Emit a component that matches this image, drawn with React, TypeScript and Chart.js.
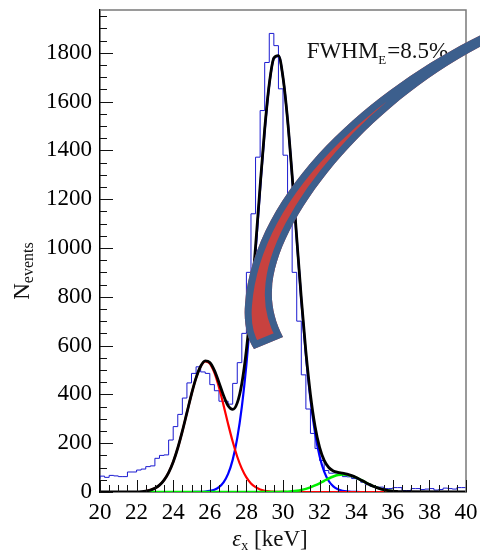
import React, { useEffect, useRef } from "react";
import { Chart, registerables } from "chart.js";
Chart.register(...registerables);

// ---------- data ----------
const binStart = 20;
const binWidth = 0.25;
const histCounts = [
  55, 65, 60, 68, 66, 63, 63, 82, 82, 90, 94, 104,
  107, 138, 150, 152, 213, 268, 318, 385, 447, 486, 513, 492,
  486, 440, 415, 372, 372, 360, 445, 530, 650, 900, 1140, 1372,
  1563, 1760, 1879, 1829, 1652, 1380, 1120, 900, 700, 480, 340, 240,
  178, 129, 88, 77, 78, 75, 63, 62, 55, 52, 40, 30,
  23, 20, 20, 14, 14, 18, 18, 6, 6, 14, 14, 10,
  12, 14, 8, 10, 16, 14, 12, 18,
];

const fitX = [
  22.5, 22.75, 23, 23.25, 23.5, 23.75, 24, 24.25, 24.5, 24.75, 25, 25.25, 25.5, 25.75,
  26, 26.25, 26.5, 26.75, 27, 27.25, 27.5, 27.75, 28, 28.25, 28.5, 28.75, 29, 29.25,
  29.5, 29.75, 30, 30.25, 30.5, 30.75, 31, 31.25, 31.5, 31.75, 32, 32.25, 32.5, 32.75,
  33, 33.25, 33.5, 33.75, 34, 34.25, 34.5, 34.75, 35, 35.25, 35.5, 35.75, 36,
];
const redFit = [
  3.8, 7.9, 15.3, 28.1, 48.7, 79.7, 123.3, 180.3, 249.1, 325.1, 401.0, 467.3, 514.6, 535.4,
  526.4, 489.0, 429.2, 356.0, 278.9, 206.6, 144.5, 95.6, 59.7, 35.2, 19.7, 10.4, 5.2, 2.4,
  1.1, 0.5, 0.2, 0, 0, 0, 0, 0, 0, 0, 0, 0, 0, 0,
  0, 0, 0, 0, 0, 0, 0, 0, 0, 0, 0, 0, 0,
];
const blueFit = [
  0, 0, 0, 0, 0, 0, 0, 0, 0, 0, 0, 0.3, 0.7, 1.8,
  4.3, 9.5, 19.9, 39.6, 74.3, 131.7, 220.6, 349.2, 522.2, 737.9, 985.3, 1243.2, 1481.9, 1669.4,
  1776.7, 1786.9, 1698.0, 1524.5, 1293.5, 1036.8, 785.5, 562.2, 380.2, 242.9, 146.7, 83.6, 45.1, 23.0,
  11.1, 5.0, 2.2, 0.9, 0.3, 0, 0, 0, 0, 0, 0, 0, 0,
];
const greenFit = [
  0, 0, 0, 0, 0, 0, 0, 0, 0, 0, 0, 0, 0, 0,
  0, 0, 0, 0, 0, 0, 0, 0, 0, 0, 0, 0, 0, 0,
  0.2, 0.4, 0.8, 1.5, 2.8, 4.9, 8.1, 12.7, 18.9, 26.7, 35.8, 45.7, 55.3, 63.5,
  69.4, 71.9, 70.8, 66.2, 58.8, 49.6, 39.7, 30.2, 21.8, 15.0, 9.7, 6.0, 3.5,
];
const totalX = [
  20, 21.5, 22, 22.25,
  22.5, 22.75, 23, 23.25, 23.5, 23.75, 24, 24.25, 24.5, 24.75, 25, 25.25, 25.5, 25.75,
  26, 26.25, 26.5, 26.75, 27, 27.25, 27.5, 27.75, 28, 28.25, 28.5, 28.75, 29, 29.25,
  29.5, 29.75, 30, 30.25, 30.5, 30.75, 31, 31.25, 31.5, 31.75, 32, 32.25, 32.5, 32.75,
  33, 33.25, 33.5, 33.75, 34, 34.25, 34.5, 34.75, 35, 35.25, 35.5, 35.75, 36,
  36.25, 36.5, 40,
];
const totalFit = [
  0, 0.1, 0.8, 1.8,
  3.8, 7.9, 15.3, 28.1, 48.7, 79.7, 123.3, 180.3, 249.1, 325.1, 401.0, 467.6, 515.3, 537.2,
  530.7, 498.5, 449.1, 395.6, 353.2, 338.3, 365.1, 444.8, 581.9, 773.1, 1005.0, 1253.6, 1487.1, 1671.8,
  1778.0, 1787.8, 1699.0, 1526.0, 1296.3, 1041.7, 793.6, 574.9, 399.1, 269.6, 182.5, 129.3, 100.4, 86.5,
  80.5, 76.9, 73.0, 67.1, 59.1, 49.6, 39.7, 30.2, 21.8, 15.0, 9.7, 6.0, 3.5,
  2.0, 1.0, 0,
];

const xTicks = [20, 22, 24, 26, 28, 30, 32, 34, 36, 38, 40];
const yTicks = [0, 200, 400, 600, 800, 1000, 1200, 1400, 1600, 1800];
const xMin = 20, xMax = 40, yMin = 0, yMax = 1975;
const xMinorStep = 0.5, yMinorStep = 50;

// decorative swoosh arrow outline, Bezier control points (data units)
// 0 start, 1-3 bezier, 4-6 bezier, 7 line, 8-10 bezier, 11-13 bezier
const arrowX = [41.858, 35.847, 28.470, 27.923, 27.836, 28.087, 28.415, 30.0, 29.563, 29.344, 29.399, 29.563, 35.191, 41.858];
const arrowY = [1909.4, 1708.7, 1278.4, 766.2, 684.3, 622.8, 585.9, 635.1, 696.6, 766.2, 827.7, 1135.0, 1639.0, 1864.4];

const annotationMain = "FWHM";
const annotationSub = "E";
const annotationTail = "=8.5%";
const annotationX = 31.3;
const annotationY = 1780;

const SERIF = "'Liberation Serif', 'Times New Roman', serif";

function toPts(xs: number[], ys: number[]) {
  return xs.map((x, i) => ({ x, y: ys[i] }));
}

const decorPlugin = {
  id: "decor",
  afterDatasetsDraw(chart: any) {
    const { ctx, chartArea: a, scales } = chart;
    const xs = scales.x, ys = scales.y;
    ctx.save();
    ctx.strokeStyle = "#7a7a7a";
    ctx.lineWidth = 1.5;
    ctx.beginPath();
    ctx.moveTo(a.left, a.top);
    ctx.lineTo(a.right, a.top);
    ctx.lineTo(a.right, a.bottom);
    ctx.stroke();
    ctx.strokeStyle = "#111";
    ctx.lineWidth = 1;
    ctx.beginPath();
    for (let v = xMin; v <= xMax + 1e-9; v += xMinorStep) {
      const major = xTicks.some((t) => Math.abs(t - v) < 1e-6);
      const px = Math.round(xs.getPixelForValue(v)) + 0.5;
      ctx.moveTo(px, a.bottom);
      ctx.lineTo(px, a.bottom - (major ? 12 : 7));
    }
    for (let v = yMin; v <= yMax; v += yMinorStep) {
      const major = yTicks.includes(v);
      const py = Math.round(ys.getPixelForValue(v)) + 0.5;
      ctx.moveTo(a.left, py);
      ctx.lineTo(a.left + (major ? 13 : 7), py);
    }
    ctx.stroke();
    ctx.restore();
  },
  afterDraw(chart: any) {
    const { ctx, chartArea: a, scales } = chart;
    const xs = scales.x, ys = scales.y;
    ctx.save();
    ctx.fillStyle = "#111";
    ctx.textBaseline = "alphabetic";
    ctx.textAlign = "left";
    let tx = xs.getPixelForValue(annotationX);
    const ty = ys.getPixelForValue(annotationY);
    ctx.font = `23px ${SERIF}`;
    ctx.fillText(annotationMain, tx, ty);
    tx += ctx.measureText(annotationMain).width;
    ctx.font = `13px ${SERIF}`;
    ctx.fillText(annotationSub, tx, ty + 6);
    tx += ctx.measureText(annotationSub).width + 1;
    ctx.font = `23px ${SERIF}`;
    ctx.fillText(annotationTail, tx, ty);

    // x-axis title
    const xc = (a.left + a.right) / 2 - 13;
    const tyX = chart.height - 7;
    ctx.font = `italic 23px ${SERIF}`;
    const wEps = ctx.measureText("ε").width;
    ctx.font = `14px ${SERIF}`;
    const wSub = ctx.measureText("x").width;
    ctx.font = `23px ${SERIF}`;
    const wRest = ctx.measureText(" [keV]").width;
    let x0 = xc - (wEps + wSub + wRest) / 2;
    ctx.font = `italic 23px ${SERIF}`;
    ctx.fillText("ε", x0, tyX);
    x0 += wEps;
    ctx.font = `14px ${SERIF}`;
    ctx.fillText("x", x0, tyX + 4);
    x0 += wSub;
    ctx.font = `23px ${SERIF}`;
    ctx.fillText(" [keV]", x0, tyX);

    // y-axis title
    ctx.translate(29, (a.top + a.bottom) / 2 + 20);
    ctx.rotate(-Math.PI / 2);
    ctx.font = `23px ${SERIF}`;
    const wN = ctx.measureText("N").width;
    ctx.font = `16px ${SERIF}`;
    const wEv = ctx.measureText("events").width;
    let y0 = -(wN + wEv) / 2;
    ctx.font = `23px ${SERIF}`;
    ctx.fillText("N", y0, 0);
    y0 += wN;
    ctx.font = `16px ${SERIF}`;
    ctx.fillText("events", y0, 4);
    ctx.setTransform(1, 0, 0, 1, 0, 0);

    // swoosh arrow: red body with a blue rim
    const p = arrowX.map((v, i) => [xs.getPixelForValue(v), ys.getPixelForValue(arrowY[i])]);
    const bz = (i: number) => ctx.bezierCurveTo(p[i][0], p[i][1], p[i + 1][0], p[i + 1][1], p[i + 2][0], p[i + 2][1]);
    ctx.beginPath();
    ctx.moveTo(p[0][0], p[0][1]);
    bz(1);
    bz(4);
    ctx.lineTo(p[7][0], p[7][1]);
    bz(8);
    bz(11);
    ctx.closePath();
    ctx.fillStyle = "#c8423f";
    ctx.fill();
    ctx.save();
    ctx.clip();
    ctx.lineJoin = "round";
    ctx.lineWidth = 14;
    ctx.strokeStyle = "#3c5f8d";
    ctx.stroke();
    ctx.restore();
    ctx.restore();
  },
};

export default function App() {
  const ref = useRef<HTMLCanvasElement | null>(null);
  useEffect(() => {
    if (!ref.current) return;
    const histPts = histCounts.map((v, i) => ({ x: binStart + i * binWidth, y: v }));
    histPts.push({ x: binStart + histCounts.length * binWidth, y: histCounts[histCounts.length - 1] });
    const line = (data: any[], color: string, width: number, order: number) => ({
      data,
      borderColor: color,
      borderWidth: width,
      pointRadius: 0,
      fill: false,
      cubicInterpolationMode: "monotone" as const,
      order,
    });
    const chart = new Chart(ref.current, {
      type: "line",
      data: {
        datasets: [
          line(toPts(totalX, totalFit), "#000000", 2.8, 0),
          line(toPts(fitX, greenFit), "#00ee00", 2.5, 1),
          line(toPts(fitX, redFit), "#ff0000", 2.2, 2),
          line(toPts(fitX, blueFit), "#0000ff", 2.2, 3),
          {
            data: histPts,
            borderColor: "#1a1ad0",
            borderWidth: 1,
            pointRadius: 0,
            fill: false,
            stepped: "after" as const,
            order: 4,
          },
        ],
      },
      options: {
        animation: false,
        responsive: false,
        devicePixelRatio: 1,
        layout: { padding: { left: 0, right: 14, top: 10, bottom: 0 } },
        plugins: { legend: { display: false }, tooltip: { enabled: false } },
        scales: {
          x: {
            type: "linear",
            min: xMin,
            max: xMax,
            grid: { display: false, drawTicks: false },
            border: { display: true, color: "#000", width: 1.5 },
            afterBuildTicks: (s: any) => { s.ticks = xTicks.map((v) => ({ value: v })); },
            afterFit: (s: any) => { s.height = 61; s.paddingLeft = 0; s.paddingRight = 0; },
            ticks: {
              autoSkip: false,
              maxRotation: 0,
              padding: 7,
              color: "#000",
              font: { family: SERIF, size: 23 },
              callback: (v: any) => String(v),
            },
          },
          y: {
            type: "linear",
            min: yMin,
            max: yMax,
            grid: { display: false, drawTicks: false },
            border: { display: true, color: "#000", width: 1.5 },
            afterBuildTicks: (s: any) => { s.ticks = yTicks.map((v) => ({ value: v })); },
            afterFit: (s: any) => { s.width = 100; s.paddingTop = 0; s.paddingBottom = 0; },
            ticks: {
              autoSkip: false,
              padding: 8,
              color: "#000",
              font: { family: SERIF, size: 23 },
              callback: (v: any) => String(v),
            },
          },
        },
      },
      plugins: [decorPlugin],
    });
    return () => chart.destroy();
  }, []);
  return (
    <div style={{ position: "absolute", left: 0, top: 0, width: 480, height: 553, background: "#fff" }}>
      <canvas ref={ref} width={480} height={553} style={{ display: "block" }} />
    </div>
  );
}
